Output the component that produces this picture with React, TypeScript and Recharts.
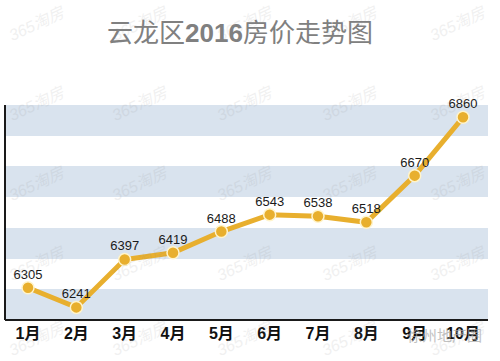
import React from "react";
import { LineChart, Line, XAxis, YAxis, CartesianGrid, LabelList } from "recharts";

const months = ["1月", "2月", "3月", "4月", "5月", "6月", "7月", "8月", "9月", "10月"];
const prices = [6305, 6241, 6397, 6419, 6488, 6543, 6538, 6518, 6670, 6860];
const yTicks = [6200, 6300, 6400, 6500, 6600, 6700, 6800, 6900];

const data = months.map((m, i) => ({ month: m, price: prices[i] }));

const GOLD = "#e8af2e";
const FONT = "'Liberation Sans', Arial, 'Noto Sans CJK SC', sans-serif";

// faint "365淘房" watermark grid
const wmRows = [25, 105, 185, 265, 340];
const wmCols = [37, 140, 245, 350, 458];

function Watermarks() {
  return (
    <svg
      width={500}
      height={361}
      style={{ position: "absolute", left: 0, top: 0, pointerEvents: "none" }}
    >
      {wmRows.map((y) =>
        wmCols.map((x) => (
          <text
            key={`${x}-${y}`}
            x={x}
            y={y}
            textAnchor="middle"
            dominantBaseline="middle"
            transform={`rotate(-25 ${x} ${y})`}
            fontFamily={FONT}
            fontSize={16}
            fontStyle="italic"
            fill="#8a8a8a"
            opacity={0.12}
          >
            365淘房
          </text>
        ))
      )}
      <text x={407} y={341} fontFamily="'Noto Sans CJK SC', sans-serif" fontSize={15} fill="#a8a8a8" opacity={0.7}>
        徐州地产圈
      </text>
    </svg>
  );
}

export default function App() {
  return (
    <div style={{ position: "absolute", left: 0, top: 0, width: 500, height: 361, background: "#fff" }}>
      <div
        style={{
          position: "absolute",
          top: 15,
          left: 0,
          width: 480,
          textAlign: "center",
          fontFamily: "'Noto Sans CJK SC', sans-serif",
          fontSize: 26,
          color: "#808080",
          lineHeight: "32px",
        }}
      >
        云龙区<b style={{ fontFamily: FONT }}>2016</b>房价走势图
      </div>
      <LineChart
        width={500}
        height={361}
        data={data}
        margin={{ top: 105, right: 12, left: 4, bottom: 11 }}
        style={{ position: "absolute", left: 0, top: 0 }}
      >
        <CartesianGrid
          vertical={false}
          stroke="none"
          horizontalFill={["#d9e3ee", "#ffffff"]}
          fillOpacity={1}
        />
        <YAxis
          width={1}
          domain={[6200, 6900]}
          ticks={yTicks}
          interval={0}
          tick={() => <g />}
          tickLine={false}
          axisLine={{ stroke: "#1a1a1a", strokeWidth: 2 }}
        />
        <XAxis
          dataKey="month"
          height={30}
          padding={{ left: 23, right: 25 }}
          tickLine={false}
          tickSize={0}
          tickMargin={8}
          axisLine={{ stroke: "#1a1a1a", strokeWidth: 2 }}
          tick={{ fill: "#111", fontSize: 16, fontWeight: 700, fontFamily: FONT }}
          interval={0}
        />
        <Line
          type="linear"
          dataKey="price"
          stroke={GOLD}
          strokeWidth={5}
          dot={{ r: 6, fill: GOLD, stroke: "#fff4cc", strokeWidth: 1.5 }}
          isAnimationActive={false}
        >
          <LabelList dataKey="price" position="top" offset={9} fill="#1a1a1a" fontSize={13} fontFamily={FONT} />
        </Line>
      </LineChart>
      <Watermarks />
    </div>
  );
}
